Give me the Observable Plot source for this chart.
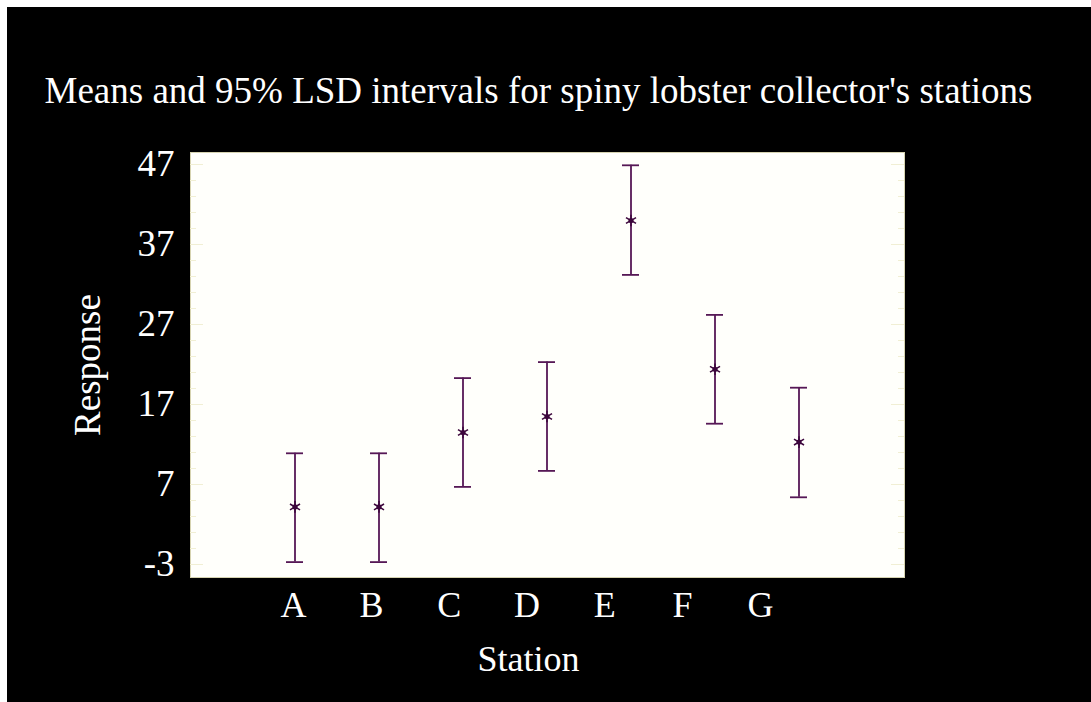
<!DOCTYPE html>
<html>
<head>
<meta charset="utf-8">
<script src="https://cdn.jsdelivr.net/npm/d3@7"></script>
<script src="https://cdn.jsdelivr.net/npm/@observablehq/plot@0.6"></script>
<style>
  html, body { margin: 0; padding: 0; background: #000000; overflow: hidden; }
  #chart { position: absolute; left: 7px; top: 7px; width: 1084px; height: 695px; background: #000000; }
  #chart svg { display: block; }
  .edge { position: absolute; background: #ffffff; }
</style>
</head>
<body>
<div class="edge" style="left:0;top:0;width:1091px;height:7px"></div>
<div class="edge" style="left:0;top:0;width:7px;height:702px"></div>
<div id="chart"></div>
<script>
// Station means with 95% LSD interval limits
const stations = ["A", "B", "C", "D", "E", "F", "G"];
const means = [4.2, 4.2, 13.5, 15.5, 40.0, 21.4, 12.3];
const lower = [-2.7, -2.7, 6.7, 8.7, 33.2, 14.6, 5.4];
const upper = [10.9, 10.9, 20.3, 22.3, 46.9, 28.2, 19.1];
const yTicks = [-3, 7, 17, 27, 37, 47];
const yMinorTicks = d3.range(-3, 48, 2).filter(v => !yTicks.includes(v));

const titleText = "Means and 95% LSD intervals for spiny lobster collector's stations";
const xLabel = "Station";
const yLabel = "Response";

const rows = stations.map((s, i) => ({station: s, mean: means[i], lo: lower[i], hi: upper[i]}));

const W = 1084, H = 695;
const mL = 183, mR = 187, mT = 145, mB = 125;
const plotW = W - mL - mR;
const font = "Liberation Serif, Times New Roman, serif";
const barColor = "#561856";
const markColor = "#3c063c";
const tickColor = "#f1efd4";

// category labels sit on a slightly tighter spacing than the intervals
const labelDx = i => -20 - 6.2 * (i - 3);

const chart = Plot.plot({
  width: W,
  height: H,
  marginLeft: mL,
  marginRight: mR,
  marginTop: mT,
  marginBottom: mB,
  style: {background: "#000000", fontFamily: font, color: "#ffffff"},
  // band width equals the whisker cap width
  x: {type: "band", domain: stations, paddingInner: 0.7976, paddingOuter: 1.1488, axis: null},
  y: {domain: [-4.625, 48.5], axis: null},
  marks: [
    Plot.frame({fill: "#fffffb", stroke: "#d6d3b0", strokeWidth: 1}),
    // inner tick marks on both sides of the frame
    Plot.ruleY(yTicks, {y: d => d, stroke: tickColor, insetRight: plotW - 13}),
    Plot.ruleY(yMinorTicks, {y: d => d, stroke: tickColor, insetRight: plotW - 6}),
    Plot.ruleY(yTicks, {y: d => d, stroke: tickColor, insetLeft: plotW - 13}),
    Plot.ruleY(yMinorTicks, {y: d => d, stroke: tickColor, insetLeft: plotW - 6}),
    // y tick labels
    Plot.text(yTicks, {
      y: d => d, text: d => String(d), frameAnchor: "left", textAnchor: "end",
      dx: -16, fontSize: 37, fill: "#ffffff", fontFamily: font
    }),
    // interval whiskers
    Plot.ruleX(rows, {x: "station", y1: "lo", y2: "hi", stroke: barColor, strokeWidth: 1.8}),
    Plot.tickY(rows, {x: "station", y: "lo", stroke: barColor, strokeWidth: 1.8}),
    Plot.tickY(rows, {x: "station", y: "hi", stroke: barColor, strokeWidth: 1.8}),
    // means
    Plot.dot(rows, {x: "station", y: "mean", symbol: "asterisk", r: 5.5, stroke: markColor, strokeWidth: 1.5}),
    Plot.dot(rows, {x: "station", y: "mean", r: 2.6, fill: markColor}),
    // x tick labels
    ...stations.map((s, i) => Plot.text([s], {
      x: d => d, text: d => d, frameAnchor: "bottom", lineAnchor: "top",
      dy: 14, dx: labelDx(i), fontSize: 36, fill: "#ffffff", fontFamily: font
    })),
    // axis titles and chart title
    Plot.text([xLabel], {
      text: d => d, frameAnchor: "bottom", lineAnchor: "top",
      dy: 68, dx: -19, fontSize: 36, fill: "#ffffff", fontFamily: font
    }),
    Plot.text([yLabel], {
      text: d => d, frameAnchor: "left", textAnchor: "middle", rotate: -90, lineAnchor: "middle",
      dx: -102, fontSize: 37, fill: "#ffffff", fontFamily: font
    }),
    Plot.text([titleText], {
      text: d => d, frameAnchor: "top", lineAnchor: "bottom",
      dy: -50, dx: -9, fontSize: 37, fill: "#ffffff", fontFamily: font
    })
  ]
});

document.getElementById("chart").appendChild(chart);
</script>
</body>
</html>
